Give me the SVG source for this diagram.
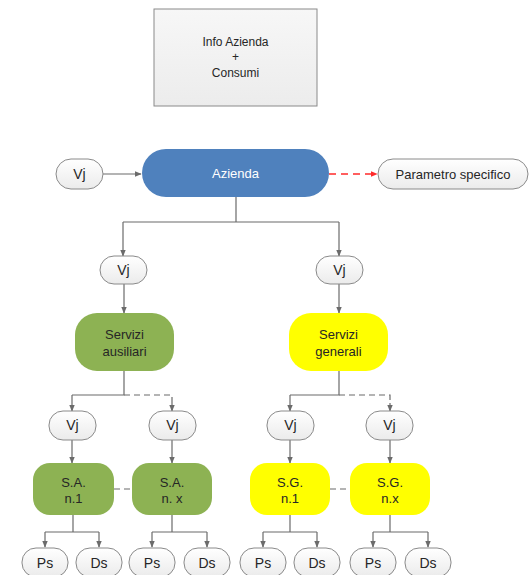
<svg xmlns="http://www.w3.org/2000/svg" width="530" height="575" viewBox="0 0 530 575">
<defs>
<linearGradient id="gw" x1="0" y1="0" x2="0" y2="1"><stop offset="0" stop-color="#ffffff"/><stop offset="1" stop-color="#ebebeb"/></linearGradient>
<linearGradient id="gbox" x1="0" y1="0" x2="0" y2="1"><stop offset="0" stop-color="#f7f7f7"/><stop offset="1" stop-color="#ececec"/></linearGradient>
<marker id="ah" viewBox="0 0 10 10" refX="9" refY="5" markerWidth="7" markerHeight="7" orient="auto" markerUnits="userSpaceOnUse"><path d="M0,1 L10,5 L0,9 z" fill="#6b6b6b"/></marker>
<marker id="ahr" viewBox="0 0 10 10" refX="9" refY="5" markerWidth="7" markerHeight="7" orient="auto" markerUnits="userSpaceOnUse"><path d="M0,1 L10,5 L0,9 z" fill="#ff2a2a"/></marker>
</defs>
<style>
text{font-family:"Liberation Sans",Arial,sans-serif;font-size:12px;fill:#262626;text-anchor:middle}
.big{font-size:14px}
.mid{font-size:13px}
.pill{fill:url(#gw);stroke:#8a8a8a;stroke-width:1}
.green{fill:#8db253;stroke:none}
.yellow{fill:#ffff00;stroke:none}
.blue{fill:#4f81bd;stroke:none}
.ln{fill:none;stroke:#6b6b6b;stroke-width:1.2}
.arr{marker-end:url(#ah)}
.dash{stroke-dasharray:6,4}
</style>
<rect width="530" height="575" fill="#ffffff"/>

<g id="info">
<rect x="154" y="9" width="163" height="97" fill="url(#gbox)" stroke="#8a8a8a" stroke-width="1"/>
<text x="235.5" y="46">Info Azienda</text>
<text x="235.5" y="61">+</text>
<text x="235.5" y="77">Consumi</text>
</g>

<g id="connectors">
<line class="ln arr" x1="103" y1="174" x2="141" y2="174"/>
<line x1="329" y1="174" x2="377" y2="174" stroke="#ff2a2a" stroke-width="1.4" stroke-dasharray="7,5" marker-end="url(#ahr)"/>
<path class="ln" d="M236,197 V222 M123,222 H339"/>
<line class="ln arr" x1="123" y1="222" x2="123" y2="256"/>
<line class="ln arr" x1="339" y1="222" x2="339" y2="256"/>
<line class="ln arr" x1="124" y1="284" x2="124" y2="313"/>
<line class="ln arr" x1="339" y1="284" x2="339" y2="313"/>
<path class="ln" d="M124,371 V395 H72"/>
<line class="ln arr" x1="72" y1="395" x2="72" y2="411"/>
<path class="ln dash" d="M124,395 H172 V404"/>
<line class="ln arr" x1="172" y1="403" x2="172" y2="411"/>
<path class="ln" d="M339,371 V395 H290"/>
<line class="ln arr" x1="290" y1="395" x2="290" y2="411"/>
<path class="ln dash" d="M339,395 H390 V404"/>
<line class="ln arr" x1="390" y1="403" x2="390" y2="411"/>
<line class="ln arr" x1="72" y1="440" x2="72" y2="463"/>
<line class="ln arr" x1="172" y1="440" x2="172" y2="463"/>
<line class="ln arr" x1="290" y1="440" x2="290" y2="463"/>
<line class="ln arr" x1="390" y1="440" x2="390" y2="463"/>
<line class="ln dash" x1="114" y1="489" x2="132" y2="489"/>
<line class="ln dash" x1="330" y1="489" x2="350" y2="489"/>
<path class="ln" d="M73,515 V532 M45,532 H99"/>
<line class="ln arr" x1="45" y1="532" x2="45" y2="547"/>
<line class="ln arr" x1="99" y1="532" x2="99" y2="547"/>
<path class="ln" d="M172,515 V532 M152,532 H207"/>
<line class="ln arr" x1="152" y1="532" x2="152" y2="547"/>
<line class="ln arr" x1="207" y1="532" x2="207" y2="547"/>
<path class="ln" d="M290,515 V532 M263,532 H317"/>
<line class="ln arr" x1="263" y1="532" x2="263" y2="547"/>
<line class="ln arr" x1="317" y1="532" x2="317" y2="547"/>
<path class="ln" d="M390,515 V532 M373,532 H428"/>
<line class="ln arr" x1="373" y1="532" x2="373" y2="547"/>
<line class="ln arr" x1="428" y1="532" x2="428" y2="547"/>
</g>

<g id="vj-top"><rect class="pill" x="56" y="159" width="47" height="30" rx="15"/><text class="big" x="79.5" y="179">Vj</text></g>
<g id="azienda"><rect class="blue" x="142" y="149" width="187" height="48" rx="24"/><text class="mid" x="235.5" y="178" style="fill:#ffffff">Azienda</text></g>
<g id="parametro"><rect class="pill" x="378" y="159" width="150" height="30" rx="15"/><text class="mid" x="453" y="179">Parametro specifico</text></g>

<g id="vj-sa"><rect class="pill" x="100" y="256" width="47" height="28" rx="14"/><text class="big" x="123.5" y="275">Vj</text></g>
<g id="vj-sg"><rect class="pill" x="316" y="256" width="47" height="28" rx="14"/><text class="big" x="339.5" y="275">Vj</text></g>

<g id="servizi-ausiliari"><rect class="green" x="75" y="313" width="99" height="58" rx="22"/><text class="mid" x="124.5" y="339">Servizi</text><text class="mid" x="124.5" y="356">ausiliari</text></g>
<g id="servizi-generali"><rect class="yellow" x="289" y="313" width="99" height="58" rx="22"/><text class="mid" x="338.5" y="339">Servizi</text><text class="mid" x="338.5" y="356">generali</text></g>

<g id="vj-sa1"><rect class="pill" x="49" y="411" width="47" height="29" rx="14"/><text class="big" x="72.5" y="430">Vj</text></g>
<g id="vj-sax"><rect class="pill" x="149" y="411" width="47" height="29" rx="14"/><text class="big" x="172.5" y="430">Vj</text></g>
<g id="vj-sg1"><rect class="pill" x="267" y="411" width="47" height="29" rx="14"/><text class="big" x="290.5" y="430">Vj</text></g>
<g id="vj-sgx"><rect class="pill" x="366" y="411" width="47" height="29" rx="14"/><text class="big" x="389.5" y="430">Vj</text></g>

<g id="sa-n1"><rect class="green" x="33" y="463" width="81" height="52" rx="17"/><text class="mid" x="73.5" y="487">S.A.</text><text class="mid" x="73.5" y="503">n.1</text></g>
<g id="sa-nx"><rect class="green" x="132" y="463" width="80" height="52" rx="17"/><text class="mid" x="172" y="487">S.A.</text><text class="mid" x="172" y="503">n. x</text></g>
<g id="sg-n1"><rect class="yellow" x="250" y="463" width="80" height="52" rx="17"/><text class="mid" x="290" y="487">S.G.</text><text class="mid" x="290" y="503">n.1</text></g>
<g id="sg-nx"><rect class="yellow" x="350" y="463" width="80" height="52" rx="17"/><text class="mid" x="390" y="487">S.G.</text><text class="mid" x="390" y="503">n.x</text></g>

<g id="ps-1"><rect class="pill" x="22" y="548" width="46" height="29" rx="14"/><text class="big" x="45" y="568">Ps</text></g>
<g id="ds-1"><rect class="pill" x="76" y="548" width="46" height="29" rx="14"/><text class="big" x="99" y="568">Ds</text></g>
<g id="ps-2"><rect class="pill" x="129" y="548" width="46" height="29" rx="14"/><text class="big" x="152" y="568">Ps</text></g>
<g id="ds-2"><rect class="pill" x="184" y="548" width="46" height="29" rx="14"/><text class="big" x="207" y="568">Ds</text></g>
<g id="ps-3"><rect class="pill" x="240" y="548" width="46" height="29" rx="14"/><text class="big" x="263" y="568">Ps</text></g>
<g id="ds-3"><rect class="pill" x="294" y="548" width="46" height="29" rx="14"/><text class="big" x="317" y="568">Ds</text></g>
<g id="ps-4"><rect class="pill" x="350" y="548" width="46" height="29" rx="14"/><text class="big" x="373" y="568">Ps</text></g>
<g id="ds-4"><rect class="pill" x="405" y="548" width="46" height="29" rx="14"/><text class="big" x="428" y="568">Ds</text></g>
</svg>
